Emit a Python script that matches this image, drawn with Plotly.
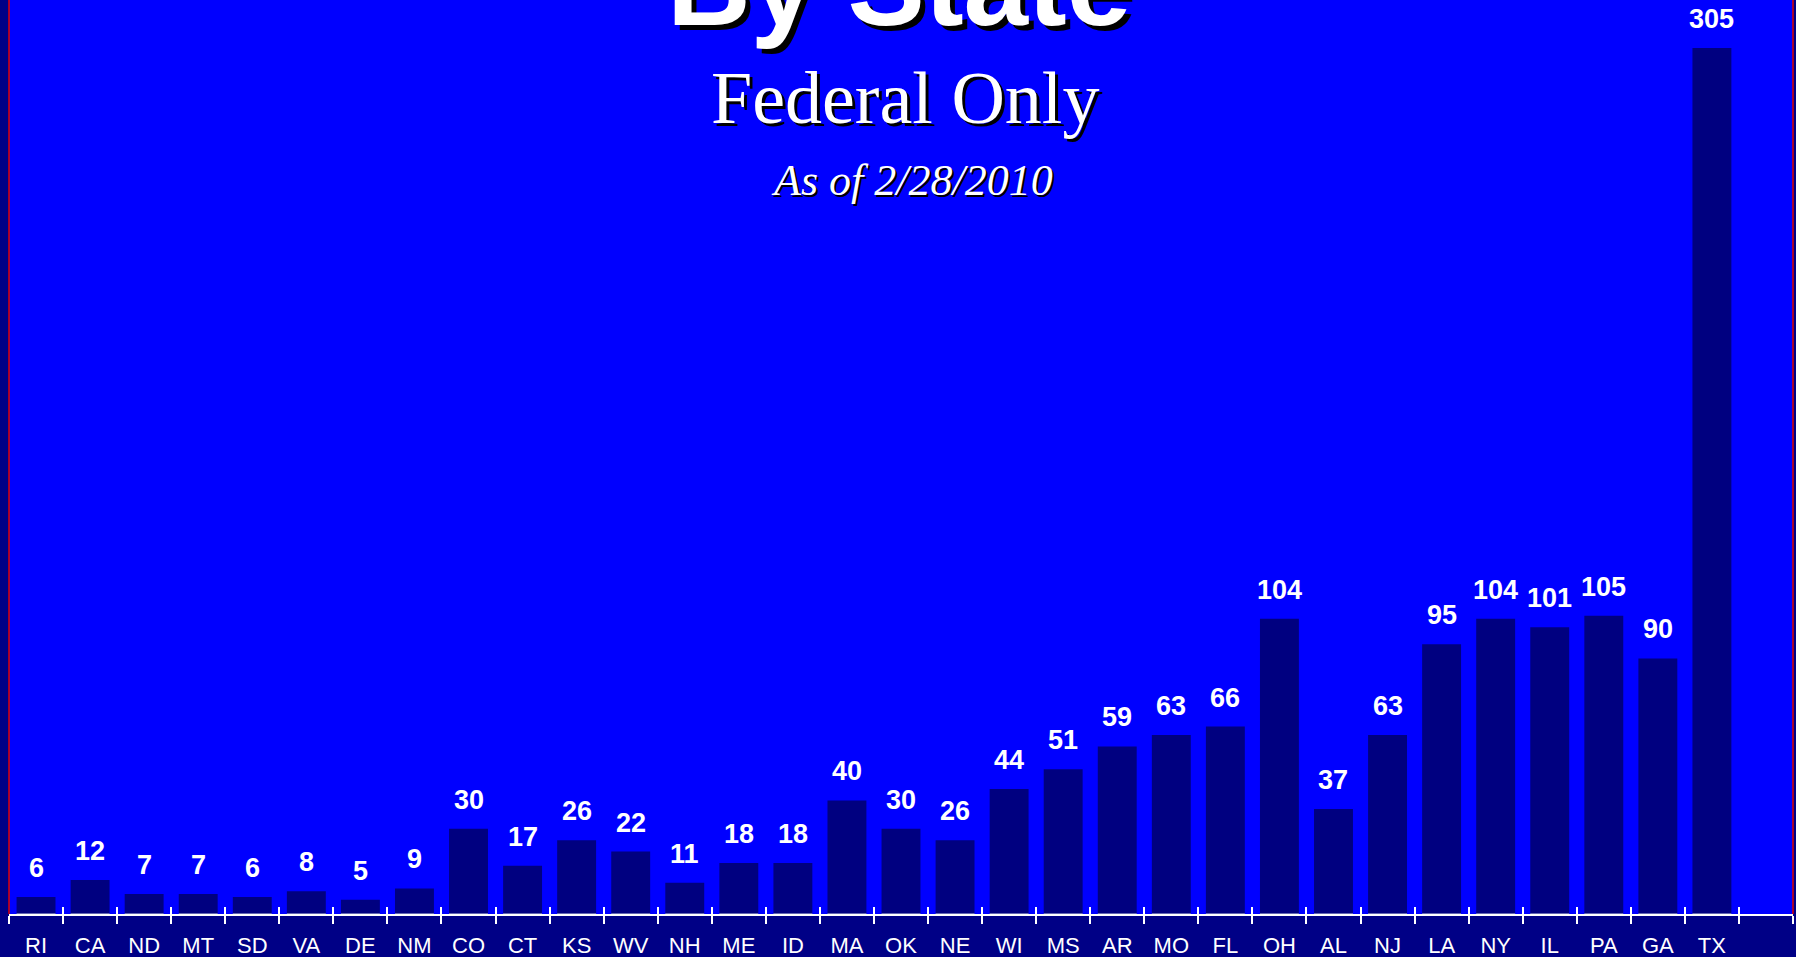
import plotly.graph_objects as go

states = ["RI", "CA", "ND", "MT", "SD", "VA", "DE", "NM", "CO", "CT", "KS", "WV",
          "NH", "ME", "ID", "MA", "OK", "NE", "WI", "MS", "AR", "MO", "FL", "OH",
          "AL", "NJ", "LA", "NY", "IL", "PA", "GA", "TX"]
counts = [6, 12, 7, 7, 6, 8, 5, 9, 30, 17, 26, 22,
          11, 18, 18, 40, 30, 26, 44, 51, 59, 63, 66, 104,
          37, 63, 95, 104, 101, 105, 90, 305]
# one empty trailing slot on the category axis
categories = states + [" "]

title_main = "By State"
title_sub = "Federal Only"
title_date = "As of 2/28/2010"

W, H = 1796, 957
PLOT_BOTTOM = 914
Y_MAX = 321.9

fig = go.Figure()
fig.add_trace(go.Bar(
    x=states, y=counts,
    marker=dict(color="#000080", line=dict(width=0)),
    hoverinfo="x+y",
))
# invisible helper trace for the upper (inside) half of the tick marks
fig.add_trace(go.Bar(
    x=states, y=[0] * len(states), xaxis="x2", yaxis="y",
    marker=dict(color="rgba(0,0,0,0)"), hoverinfo="skip", showlegend=False,
))

annotations = []
for s, c in zip(states, counts):
    annotations.append(dict(
        x=s, y=c, xref="x", yref="y", text=f"<b>{c}</b>", showarrow=False,
        yanchor="bottom", yshift=12,
        font=dict(family="Liberation Sans, Arial, sans-serif", size=27, color="white"),
    ))

def shadow_text(text, y_px, size, family, shadow, x_px=900, bold=False, italic=False):
    t = f"<b>{text}</b>" if bold else text
    if italic:
        t = f"<i>{t}</i>"
    y = 1 - y_px / PLOT_BOTTOM
    x = x_px / W
    for dx, color in ((shadow, "black"), (0, "white")):
        annotations.append(dict(
            x=x, y=y, xref="paper", yref="paper", text=t, showarrow=False,
            xanchor="center", yanchor="middle", xshift=dx, yshift=-dx,
            font=dict(family=family, size=size, color=color),
        ))

shadow_text(title_main, -15, 116, "Liberation Sans, Arial, sans-serif", 5, x_px=896, bold=True)
shadow_text(title_sub, 98, 74, "Liberation Serif, Times New Roman, serif", 3, x_px=902)
shadow_text(title_date, 180, 44, "Liberation Serif, Times New Roman, serif", 2, x_px=909, italic=True)

shapes = [
    dict(type="line", xref="paper", yref="paper", x0=0, x1=0, y0=0, y1=1,
         line=dict(color="#E00000", width=1.5), layer="above"),
    dict(type="line", xref="paper", yref="paper", x0=1, x1=1, y0=0, y1=1,
         line=dict(color="#E00000", width=1.5), layer="above"),
]

axis_common = dict(
    type="category", categoryorder="array", categoryarray=categories,
    range=[-0.5, len(categories) - 0.5], tickson="boundaries",
    showgrid=False, zeroline=False, fixedrange=True,
)

fig.update_layout(
    width=W, height=H,
    margin=dict(l=9, r=3, t=0, b=H - PLOT_BOTTOM, pad=0),
    paper_bgcolor="#000086",
    plot_bgcolor="#0000FF",
    bargap=0.28,
    showlegend=False,
    barmode="overlay",
    xaxis=dict(
        **axis_common,
        showline=True, linecolor="white", linewidth=2,
        ticks="outside", ticklen=8, tickwidth=2, tickcolor="white",
        tickfont=dict(family="Liberation Sans, Arial, sans-serif", size=22, color="white"),
        ticklabelstandoff=11,
    ),
    xaxis2=dict(
        **axis_common, overlaying="x", anchor="y", side="bottom",
        showline=False, ticks="inside", ticklen=7, tickwidth=2, tickcolor="white",
        showticklabels=False,
    ),
    yaxis=dict(range=[0, Y_MAX], visible=False, fixedrange=True),
    annotations=annotations,
    shapes=shapes,
)

fig.write_html(
    "out.html",
    config={"displayModeBar": False},
    post_script="document.body.style.margin='0';document.body.style.overflow='hidden';"
                "document.body.style.background='#000086';",
)
